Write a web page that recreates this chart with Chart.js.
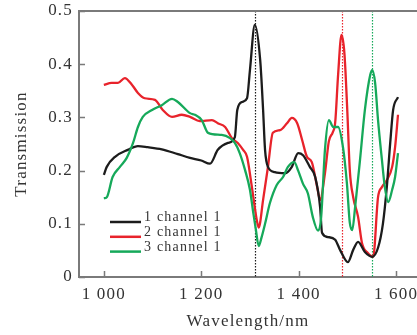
<!DOCTYPE html>
<html>
<head>
<meta charset="utf-8">
<script src="https://cdn.jsdelivr.net/npm/chart.js@4.4.1/dist/chart.umd.min.js"></script>
<style>
  html, body { margin: 0; padding: 0; background: #fff; }
</style>
</head>
<body>
<canvas id="transChart" width="417" height="335"></canvas>
<script>
// channel 1 of devices 1..3, wavelength in nm and transmission
const wl1 = [1000,1006,1023,1049,1070,1090,1119,1152,1177,1200,1218,1234,1255,1269,1274,1284,1294,1300,1310,1321,1327,1331,1337,1351,1372,1386,1399,1409,1423,1434,1444,1448,1460,1475,1485,1501,1512,1522,1536,1551,1563,1573,1581,1588,1594,1604];
const t1 = [0.192,0.207,0.226,0.239,0.246,0.244,0.240,0.231,0.224,0.219,0.213,0.239,0.252,0.263,0.314,0.329,0.336,0.389,0.474,0.408,0.314,0.239,0.207,0.197,0.195,0.207,0.233,0.229,0.207,0.188,0.132,0.083,0.075,0.070,0.051,0.028,0.051,0.066,0.047,0.038,0.055,0.100,0.169,0.252,0.314,0.338];

const wl2 = [1000,1016,1029,1043,1058,1070,1084,1105,1121,1140,1160,1177,1197,1222,1234,1249,1263,1275,1286,1294,1304,1314,1318,1327,1337,1347,1362,1376,1386,1397,1407,1417,1427,1438,1444,1454,1462,1470,1475,1481,1488,1494,1500,1505,1512,1522,1530,1542,1553,1563,1571,1581,1592,1598,1604];
const t2 = [0.361,0.365,0.365,0.374,0.361,0.346,0.336,0.333,0.314,0.301,0.305,0.301,0.293,0.295,0.289,0.282,0.261,0.252,0.239,0.226,0.169,0.107,0.093,0.145,0.207,0.271,0.276,0.289,0.299,0.289,0.258,0.226,0.216,0.169,0.145,0.195,0.255,0.272,0.290,0.380,0.455,0.420,0.310,0.201,0.150,0.113,0.064,0.045,0.038,0.150,0.169,0.182,0.207,0.244,0.305];

const wl3 = [1000,1006,1018,1033,1047,1060,1070,1080,1099,1119,1140,1152,1177,1187,1201,1214,1242,1259,1269,1279,1290,1300,1306,1312,1318,1324,1331,1341,1355,1368,1378,1391,1399,1409,1419,1429,1440,1446,1454,1462,1471,1481,1491,1499,1505,1510,1516,1526,1536,1547,1551,1557,1563,1571,1577,1584,1592,1598,1604];
const t3 = [0.148,0.150,0.188,0.207,0.224,0.252,0.282,0.301,0.314,0.323,0.335,0.329,0.308,0.305,0.295,0.271,0.267,0.261,0.252,0.233,0.201,0.164,0.126,0.090,0.058,0.075,0.100,0.139,0.173,0.188,0.207,0.216,0.200,0.175,0.157,0.113,0.087,0.110,0.239,0.295,0.282,0.282,0.244,0.177,0.102,0.088,0.132,0.220,0.314,0.380,0.389,0.365,0.295,0.220,0.169,0.141,0.164,0.188,0.233];

const seriesLabels = ['1 channel 1', '2 channel 1', '3 channel 1'];
const seriesColors = ['#1c1c1c', '#e8232b', '#16a95a'];
const peakWl = [1310, 1488, 1550];   // dotted markers, one per series
const xTicks = [1000, 1200, 1400, 1600];

const axisGray = '#7a7a7a';
const textColor = '#333';
const serif = "'Liberation Serif', 'Times New Roman', serif";

function toPoints(xs, ys) {
  return xs.map((x, i) => ({ x: x, y: ys[i] }));
}

function fmtWl(v) {
  const s = String(v);
  return s.length > 3 ? s.slice(0, -3) + ' ' + s.slice(-3) : s;
}

// wide letter spacing like the source figure
const spacing = {
  id: 'spacing',
  beforeUpdate(chart) { chart.ctx.letterSpacing = '1.2px'; },
  beforeDraw(chart) { chart.ctx.letterSpacing = '1.2px'; }
};

const markers = {
  id: 'markers',
  beforeDatasetsDraw(chart) {
    const { ctx, chartArea, scales } = chart;
    ctx.save();
    ctx.lineWidth = 1.2;
    ctx.setLineDash([1.5, 1.5]);
    peakWl.forEach((w, i) => {
      const x = Math.round(scales.x.getPixelForValue(w)) + 0.5;
      ctx.strokeStyle = seriesColors[i];
      ctx.beginPath();
      ctx.moveTo(x, chartArea.top);
      ctx.lineTo(x, chartArea.bottom);
      ctx.stroke();
    });
    ctx.restore();
  }
};

const frame = {
  id: 'frame',
  afterDraw(chart) {
    const { ctx, chartArea, scales } = chart;
    ctx.save();
    ctx.strokeStyle = axisGray;
    ctx.lineWidth = 2;
    ctx.beginPath();
    ctx.moveTo(chartArea.left, chartArea.top);
    ctx.lineTo(chartArea.right, chartArea.top);
    ctx.stroke();
    // inward tick marks
    ctx.lineWidth = 1.5;
    ctx.beginPath();
    scales.x.ticks.forEach(t => {
      const x = Math.round(scales.x.getPixelForValue(t.value)) + 0.5;
      ctx.moveTo(x, chartArea.bottom);
      ctx.lineTo(x, chartArea.bottom - 6);
    });
    scales.y.ticks.forEach(t => {
      const y = Math.round(scales.y.getPixelForValue(t.value)) + 0.5;
      ctx.moveTo(chartArea.left, y);
      ctx.lineTo(chartArea.left + 6, y);
    });
    ctx.stroke();

    // legend inside the plot
    ctx.font = '14px ' + serif;
    ctx.fillStyle = textColor;
    ctx.textAlign = 'left';
    ctx.textBaseline = 'alphabetic';
    chart.data.datasets.forEach((ds, i) => {
      const y = chartArea.top + 211 + i * 14.8;
      ctx.strokeStyle = ds.borderColor;
      ctx.lineWidth = 2.5;
      ctx.beginPath();
      ctx.moveTo(chartArea.left + 31, y);
      ctx.lineTo(chartArea.left + 62, y);
      ctx.stroke();
      ctx.fillText(ds.label, chartArea.left + 65, y - 1);
    });
    ctx.restore();
  }
};

const ctx = document.getElementById('transChart').getContext('2d');
const chart = new Chart(ctx, {
  type: 'line',
  data: {
    datasets: [
      { label: seriesLabels[0], data: toPoints(wl1, t1), borderColor: seriesColors[0], order: 1 },
      { label: seriesLabels[1], data: toPoints(wl2, t2), borderColor: seriesColors[1], order: 2 },
      { label: seriesLabels[2], data: toPoints(wl3, t3), borderColor: seriesColors[2], order: 0 }
    ]
  },
  options: {
    responsive: false,
    devicePixelRatio: 1,
    animation: false,
    events: [],
    layout: { padding: { top: 11, right: 0, left: 0, bottom: 0 } },
    elements: {
      point: { radius: 0 },
      line: { borderWidth: 2.3, cubicInterpolationMode: 'monotone', fill: false }
    },
    plugins: {
      legend: { display: false },
      tooltip: { enabled: false }
    },
    scales: {
      x: {
        type: 'linear',
        min: 949,
        max: 1643,
        afterBuildTicks(scale) {
          scale.ticks = xTicks.map(v => ({ value: v }));
        },
        afterFit(scale) {
          scale.height = 58;
          scale.paddingLeft = 0;
          scale.paddingRight = 0;
        },
        grid: { display: false, drawTicks: false },
        border: { display: true, color: axisGray, width: 2 },
        ticks: {
          padding: 7,
          color: textColor,
          font: { family: serif, size: 17 },
          callback: v => fmtWl(v)
        },
        title: {
          display: true,
          text: 'Wavelength/nm',
          color: textColor,
          font: { family: serif, size: 17 },
          padding: { top: 0, bottom: 3 }
        }
      },
      y: {
        min: 0,
        max: 0.5,
        afterFit(scale) {
          scale.width = 79;
          scale.paddingTop = 0;
          scale.paddingBottom = 0;
        },
        grid: { display: false, drawTicks: false },
        border: { display: true, color: axisGray, width: 2 },
        ticks: {
          stepSize: 0.1,
          padding: 6,
          color: textColor,
          font: { family: serif, size: 17 },
          callback: v => String(+v.toFixed(1))
        },
        title: {
          display: true,
          text: 'Transmission',
          color: textColor,
          font: { family: serif, size: 17 },
          padding: { top: 11, bottom: 0 }
        }
      }
    }
  },
  plugins: [spacing, markers, frame]
});
</script>
</body>
</html>
